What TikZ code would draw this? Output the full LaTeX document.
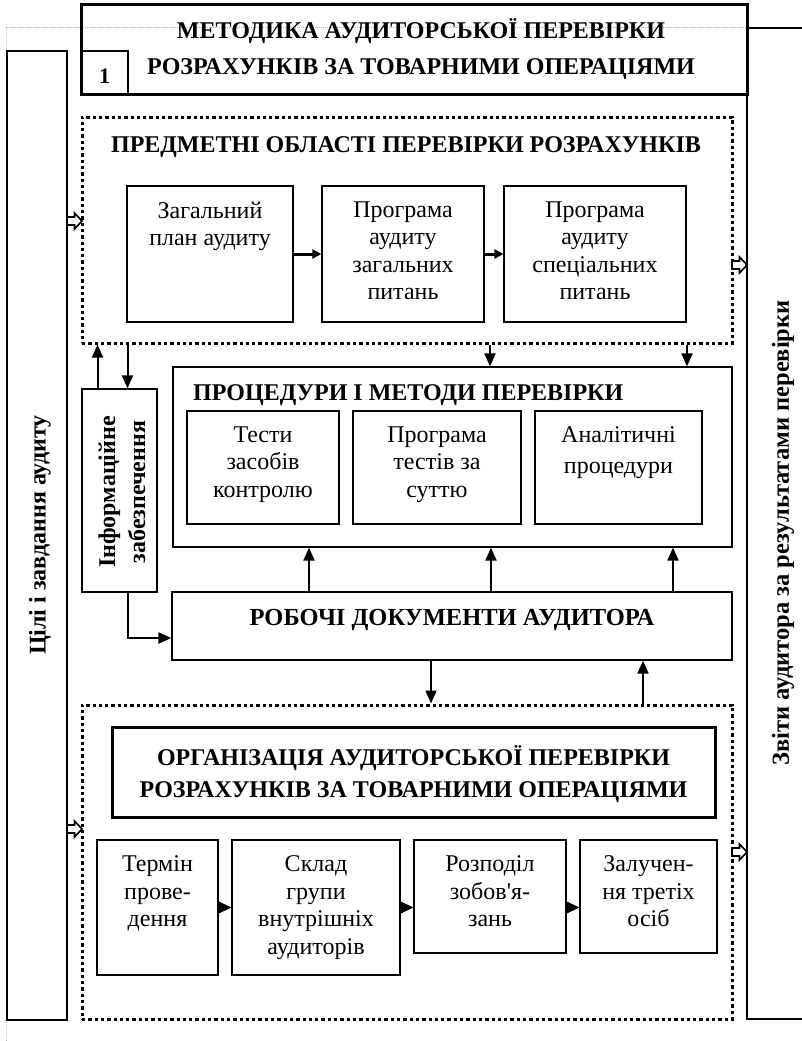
\documentclass[tikz,border=0pt]{standalone}
\usepackage{fontspec}
\setmainfont{Liberation Serif}
\usetikzlibrary{arrows.meta,positioning}

\begin{document}
\begin{tikzpicture}[x=1pt, y=-1pt,
  box/.style={draw, line width=1.2pt, inner sep=0pt},
  heavybox/.style={draw, line width=3pt, inner sep=0pt},
  zone/.style={draw, line width=3pt, dash pattern=on 3.3pt off 3pt, inner sep=0pt},
  frame/.style={draw=gray!55, line width=1pt, dash pattern=on 1pt off 1pt},
  txt/.style={align=center, inner sep=0pt, font=\fontsize{24}{27.5}\selectfont},
  head/.style={align=center, inner sep=0pt, font=\fontsize{24}{36}\selectfont\bfseries},
  side/.style={rotate=90, align=center, inner sep=0pt, font=\fontsize{24}{30}\selectfont\bfseries},
  arr/.style={line width=2pt, -{Triangle[length=13pt,width=11pt]}},
  link/.style={line width=3pt, -{Triangle[length=9pt,width=9pt]}},
  stage/.style={line width=1pt, -{Triangle[length=14pt,width=13pt]}},
  hollow/.pic={\draw[line width=1.6pt, fill=white]
    (-7.5,-4) -- (0,-4) -- (0,-8) -- (7.5,0) -- (0,8) -- (0,4) -- (-7.5,4) -- cycle;}]

\useasboundingbox (0,0) rectangle (802,1041);

% side columns
\draw[frame] (6,1041) -- (6,28) -- (747,28);
\node[box, minimum width=60pt, minimum height=969pt] (goals) at (37,535.5) {};
\node[side] (goalsT) at (40,535) {Цілі і завдання аудиту};
\node[box, minimum width=110pt, minimum height=991pt] (reports) at (802,523.5) {};
\node[side, font=\fontsize{24.5}{30}\selectfont\bfseries] (reportsT) at (783,533) {Звіти аудитора за результатами перевірки};

% title
\node[heavybox, minimum width=666pt, minimum height=89pt] (title) at (414,49.5) {};
\node[head] (titleT) at (421,49) {МЕТОДИКА АУДИТОРСЬКОЇ ПЕРЕВІРКИ\\РОЗРАХУНКІВ ЗА ТОВАРНИМИ ОПЕРАЦІЯМИ};
\node[box, line width=1.6pt, minimum width=47pt, text height=32pt, text depth=11pt,
  font=\fontsize{22}{24}\selectfont\bfseries] (num) at (104.5,72.5) {1};

% subject areas
\node[zone, minimum width=650pt, minimum height=226pt] (subj) at (407,230) {};
\node[head, anchor=base] (subjT) at (406,152) {ПРЕДМЕТНІ ОБЛАСТІ ПЕРЕВІРКИ РОЗРАХУНКІВ};
\node[box, minimum width=166pt, minimum height=136pt] (plan) at (210,254) {};
\node[box, minimum width=162pt, minimum height=136pt] (genprog) at (403,254) {};
\node[box, minimum width=182pt, minimum height=136pt] (specprog) at (595,254) {};
\node[txt, below=16pt of plan.north] (planT) {Загальний\\план аудиту};
\node[txt, below=16pt of genprog.north] (genprogT) {Програма\\аудиту\\загальних\\питань};
\node[txt, below=16pt of specprog.north] (specprogT) {Програма\\аудиту\\спеціальних\\питань};
\draw[link] (plan) -- (genprog);
\draw[link] (genprog) -- (specprog);

% information support
\node[box, minimum width=75pt, minimum height=203pt] (info) at (119.5,490.5) {};
\node[side] (infoT) at (122,492) {Інформаційне\\забезпечення};

% procedures
\node[box, minimum width=559pt, minimum height=180pt] (proc) at (452.5,457) {};
\node[head, anchor=base west] (procT) at (193,400) {ПРОЦЕДУРИ І МЕТОДИ ПЕРЕВІРКИ};
\node[box, minimum width=152pt, minimum height=113pt] (tests) at (263,467.5) {};
\node[box, minimum width=168pt, minimum height=113pt] (subst) at (437,467.5) {};
\node[box, minimum width=167pt, minimum height=113pt] (anal) at (618.5,467.5) {};
\node[txt, below=16pt of tests.north] (testsT) {Тести\\засобів\\контролю};
\node[txt, below=16pt of subst.north] (substT) {Програма\\тестів за\\суттю};
\node[txt, below=16pt of anal.north, font=\fontsize{24}{31}\selectfont] (analT) {Аналітичні\\процедури};

% working papers
\node[box, minimum width=560pt, text height=33pt, text depth=35pt,
  font=\fontsize{24.5}{26}\selectfont\bfseries] (docs) at (452,626) {РОБОЧІ ДОКУМЕНТИ АУДИТОРА};

% organisation
\node[zone, minimum width=650pt, minimum height=314pt] (org) at (407,862) {};
\node[heavybox, minimum width=603pt, minimum height=90pt] (orgbox) at (413.5,772) {};
\node[head, font=\fontsize{24}{32}\selectfont\bfseries] (orgT) at (413.5,774)
  {ОРГАНІЗАЦІЯ АУДИТОРСЬКОЇ ПЕРЕВІРКИ\\РОЗРАХУНКІВ ЗА ТОВАРНИМИ ОПЕРАЦІЯМИ};
\node[box, minimum width=121pt, minimum height=135pt] (term) at (157.5,907.5) {};
\node[box, minimum width=168pt, minimum height=135pt] (team) at (316,907.5) {};
\node[box, minimum width=152pt, minimum height=113pt] (duty) at (490,896.5) {};
\node[box, minimum width=137pt, minimum height=113pt] (third) at (648.5,896.5) {};
\node[txt, below=16pt of term.north] (termT) {Термін\\прове-\\дення};
\node[txt, below=16pt of team.north] (teamT) {Склад\\групи\\внутрішніх\\аудиторів};
\node[txt, below=16pt of duty.north] (dutyT) {Розподіл\\зобов\textquotesingle я-\\зань};
\node[txt, below=16pt of third.north] (thirdT) {Залучен-\\ня третіх\\осіб};
\draw[stage] (term) -- (team);
\draw[stage] (team.east |- term.east) -- (duty.west |- term.east);
\draw[stage] (duty.east |- term.east) -- (third.west |- term.east);

% connectors
\coordinate (i1) at ([xshift=-22pt]info.north);
\coordinate (i2) at ([xshift=8pt]info.north);
\coordinate (i3) at ([xshift=8pt]info.south);
\coordinate (d1) at ([yshift=-12pt]docs.west);
\draw[arr] (i1) -- (i1 |- subj.south);
\draw[arr] (i2 |- subj.south) -- (i2);
\draw[arr] (i3) |- (d1);
\coordinate (p1) at ([xshift=37.5pt]proc.north);
\coordinate (p2) at ([xshift=234.5pt]proc.north);
\draw[arr] (p1 |- subj.south) -- (p1);
\draw[arr] (p2 |- subj.south) -- (p2);
\coordinate (w1) at ([xshift=-143pt]docs.north);
\coordinate (w2) at ([xshift=39pt]docs.north);
\coordinate (w3) at ([xshift=221pt]docs.north);
\draw[arr] (w1) -- (w1 |- proc.south);
\draw[arr] (w2) -- (w2 |- proc.south);
\draw[arr] (w3) -- (w3 |- proc.south);
\coordinate (o1) at ([xshift=-21pt]docs.south);
\coordinate (o2) at ([xshift=191pt]docs.south);
\draw[arr] (o1) -- (o1 |- org.north);
\draw[arr] (o2 |- org.north) -- (o2);

% hollow markers
\pic at (74.5,221) {hollow};
\pic at (74.5,829) {hollow};
\pic at (739.5,265) {hollow};
\pic at (739.5,852) {hollow};
\end{tikzpicture}
\end{document}
